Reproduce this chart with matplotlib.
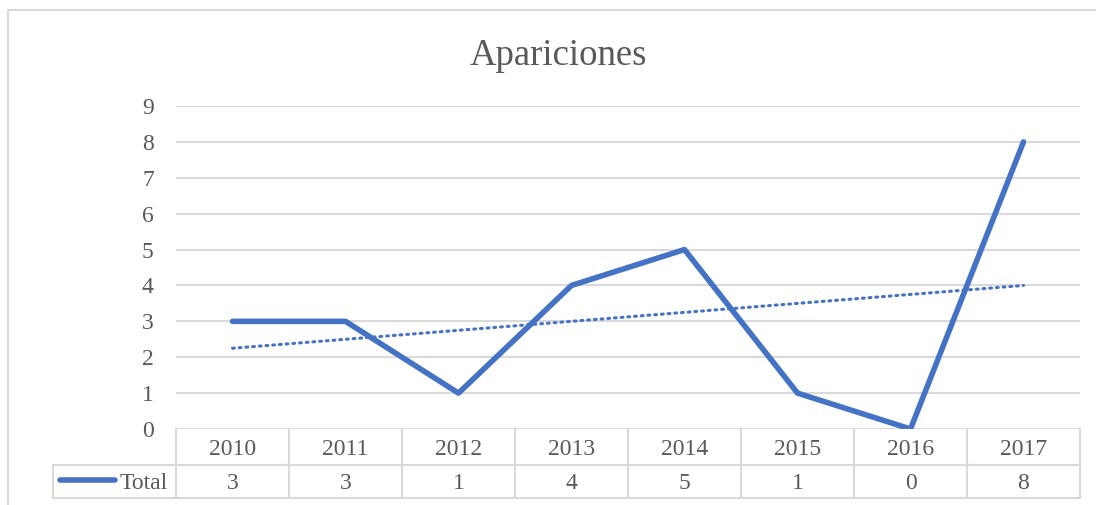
import numpy as np
import matplotlib
matplotlib.use("Agg")
import matplotlib.pyplot as plt
from matplotlib import transforms
from matplotlib.lines import Line2D

years = ["2010", "2011", "2012", "2013", "2014", "2015", "2016", "2017"]
totals = [3, 3, 1, 4, 5, 1, 0, 8]
series_name = "Total"
title = "Apariciones"
yticks = [0, 1, 2, 3, 4, 5, 6, 7, 8, 9]

W, H = 1096, 505
plt.rcParams['font.family'] = ['Liberation Serif', 'DejaVu Serif']
fig = plt.figure(figsize=(W / 100, H / 100), dpi=100)

def fx(px):
    return px / W

def fy(py):
    return 1 - py / H

GRID = "#d9d9d9"
TXT = "#595959"
BLUE = "#4472C4"

left, right, top, bottom = 176, 1080, 106, 429
ax = fig.add_axes([fx(left), fy(bottom), (right - left) / W, (bottom - top) / H])

x = np.arange(1, len(totals) + 1)
ax.plot(x, totals, color=BLUE, lw=4, solid_joinstyle='round', solid_capstyle='round', zorder=3)
coef = np.polyfit(x, totals, 1)
ax.plot(x, np.polyval(coef, x), color=BLUE, lw=2.2, linestyle=(0, (0.6, 1.6)),
        dash_capstyle='round', zorder=2)

ax.set_xlim(0.5, len(totals) + 0.5)
ax.set_ylim(0, 9)
ax.set_yticks(yticks)
ax.set_xticks([])
for s in ax.spines.values():
    s.set_visible(False)
ax.yaxis.grid(True, color=GRID, lw=1.5)
ax.set_axisbelow(True)
ax.tick_params(axis='y', length=0, pad=16, labelsize=17, labelcolor=TXT)

# Title
fig.text(fx(558), fy(65), title, ha='center', va='baseline', fontsize=26.5, color=TXT)

# Data table
bt = transforms.blended_transform_factory(ax.transData, fig.transFigure)
row_top, row_mid, row_bot = 429, 465, 498
xl = 0.5 + (53 - left) / ((right - left) / len(totals))
for k in range(len(totals) + 1):
    fig.add_artist(Line2D([0.5 + k, 0.5 + k], [fy(row_top), fy(row_bot)], transform=bt,
                          color=GRID, lw=1.5))
for yy in (row_mid, row_bot):
    fig.add_artist(Line2D([xl, len(totals) + 0.5], [fy(yy), fy(yy)], transform=bt,
                          color=GRID, lw=1.5))
fig.add_artist(Line2D([xl, xl], [fy(row_mid), fy(row_bot)], transform=bt, color=GRID, lw=1.5))

for i, (yr, v) in enumerate(zip(years, totals)):
    fig.text(i + 1, fy(455), yr, transform=bt, ha='center', va='baseline', fontsize=17, color=TXT)
    fig.text(i + 1, fy(489), str(v), transform=bt, ha='center', va='baseline', fontsize=17, color=TXT)

fig.add_artist(Line2D([fx(60), fx(115)], [fy(480), fy(480)], transform=fig.transFigure,
                      color=BLUE, lw=4, solid_capstyle='round'))
fig.text(fx(168), fy(489), series_name, ha='right', va='baseline', fontsize=17, color=TXT)

# Outer chart border
fig.add_artist(Line2D([fx(8), fx(8), 1.0], [0.0, fy(10), fy(10)], transform=fig.transFigure,
                      color=GRID, lw=1.5))

fig.savefig("out.png", dpi=100)
